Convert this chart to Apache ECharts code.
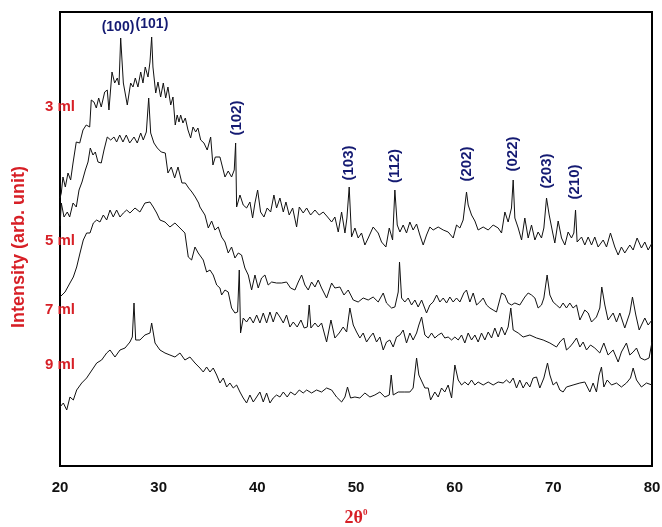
<!DOCTYPE html>
<html>
<head>
<meta charset="utf-8">
<script src="https://cdn.jsdelivr.net/npm/echarts/dist/echarts.min.js"></script>
<style>
html,body{margin:0;padding:0;background:#fff;}
#chart{width:662px;height:527px;}
</style>
</head>
<body>
<div id="chart"></div>
<script>
// 2-theta tick labels
const xTicks = [20, 30, 40, 50, 60, 70, 80];

// [2theta, intensity] pairs
const trace3ml = [[20.0,268],[20.13,273],[20.3,289],[20.54,279],[20.81,293],[21.08,286],[21.32,303],[21.65,324],[22.0,323],[22.33,336],[22.66,341],[23.01,339],[23.17,366],[23.44,364],[23.68,358],[23.92,368],[24.18,359],[24.53,374],[24.79,376],[24.96,356],[25.27,394],[25.54,383],[25.81,388],[25.98,381],[26.15,428],[26.42,383],[26.82,361],[27.16,383],[27.4,379],[27.63,388],[27.9,379],[28.18,394],[28.41,383],[28.64,399],[28.92,389],[29.12,404],[29.29,429],[29.42,399],[29.7,373],[29.93,384],[30.2,369],[30.47,383],[30.71,368],[30.94,379],[31.22,361],[31.45,369],[31.68,341],[31.88,351],[32.06,344],[32.23,351],[32.46,343],[32.7,348],[32.97,336],[33.24,328],[33.48,339],[33.75,334],[33.98,338],[34.26,326],[34.59,323],[34.92,316],[35.27,329],[35.5,301],[35.74,309],[36.21,309],[36.72,289],[37.05,295],[37.39,289],[37.66,296],[37.8,323],[37.9,259],[38.24,271],[38.57,261],[38.91,258],[39.25,264],[39.52,248],[39.76,263],[40.03,276],[40.33,254],[40.67,249],[41.0,258],[41.35,254],[41.68,271],[41.95,258],[42.29,268],[42.63,254],[42.9,264],[43.23,251],[43.58,258],[43.98,239],[44.25,259],[44.65,253],[45.0,258],[45.4,251],[45.84,256],[46.27,251],[46.68,254],[47.12,249],[47.53,244],[47.86,249],[48.2,234],[48.54,254],[48.88,233],[49.08,248],[49.31,279],[49.55,229],[49.89,238],[50.22,228],[50.56,233],[50.9,221],[51.24,228],[51.74,239],[52.25,233],[52.59,224],[53.03,219],[53.37,238],[53.71,226],[53.94,276],[54.18,241],[54.45,234],[54.78,241],[55.12,233],[55.46,244],[55.79,236],[56.14,242],[56.47,231],[56.81,221],[57.15,231],[57.49,239],[57.82,236],[58.33,239],[58.84,236],[59.34,234],[59.85,228],[60.19,241],[60.53,238],[60.86,246],[61.2,274],[61.37,261],[61.71,251],[62.05,245],[62.38,236],[62.89,239],[63.4,236],[63.9,241],[64.41,238],[64.75,233],[65.09,254],[65.42,244],[65.76,258],[65.93,286],[66.1,248],[66.44,238],[66.78,226],[67.11,248],[67.45,228],[67.79,241],[68.13,226],[68.46,234],[68.8,228],[69.04,238],[69.31,268],[69.58,251],[69.92,234],[70.15,223],[70.49,245],[70.83,228],[71.17,221],[71.5,234],[71.84,228],[72.08,233],[72.25,256],[72.41,224],[72.86,229],[73.19,221],[73.53,229],[73.87,221],[74.2,229],[74.54,219],[75.05,226],[75.39,219],[75.79,233],[76.23,219],[76.57,211],[76.9,219],[77.24,213],[77.75,221],[78.09,216],[78.49,228],[78.93,218],[79.27,224],[79.61,216],[80.0,223]];

const trace5ml = [[20.0,240],[20.13,263],[20.41,249],[20.74,254],[20.98,249],[21.32,263],[21.65,259],[21.93,276],[22.23,284],[22.57,296],[22.84,304],[23.07,318],[23.34,311],[23.58,314],[23.85,304],[24.18,303],[24.46,316],[24.79,329],[25.14,326],[25.47,329],[25.74,324],[26.05,331],[26.38,324],[26.72,331],[27.06,323],[27.5,329],[27.83,323],[28.18,333],[28.44,326],[28.75,334],[28.99,368],[29.19,333],[29.52,323],[29.86,318],[30.26,314],[30.67,313],[30.94,293],[31.28,299],[31.62,288],[31.96,299],[32.36,283],[32.7,283],[33.04,278],[33.37,274],[33.71,269],[34.05,263],[34.18,259],[34.69,251],[35.03,238],[35.37,245],[35.7,236],[36.04,239],[36.38,229],[36.72,224],[37.05,213],[37.39,219],[37.73,208],[38.07,213],[38.4,211],[38.74,198],[39.08,191],[39.42,176],[39.76,191],[40.09,178],[40.43,188],[40.77,191],[41.1,181],[41.45,184],[41.95,183],[42.46,183],[42.96,184],[43.37,178],[43.81,176],[44.15,184],[44.49,191],[44.82,181],[45.16,176],[45.5,184],[45.84,179],[46.17,186],[46.51,178],[47.02,168],[47.53,183],[47.86,178],[48.37,179],[48.78,171],[49.21,176],[49.72,166],[50.22,164],[50.73,168],[51.24,166],[51.74,169],[52.25,164],[52.76,173],[53.09,163],[53.6,158],[53.94,159],[54.28,174],[54.41,204],[54.62,168],[54.95,164],[55.29,168],[55.63,161],[55.97,166],[56.3,159],[56.65,166],[57.15,153],[57.49,161],[57.82,164],[58.17,171],[58.5,164],[58.84,168],[59.18,163],[59.51,169],[59.85,164],[60.19,168],[60.53,164],[60.93,173],[61.2,176],[61.54,164],[61.88,173],[62.22,161],[62.55,164],[62.89,168],[63.23,161],[63.57,158],[63.9,156],[64.24,154],[64.75,173],[65.09,171],[65.42,163],[65.76,161],[66.1,163],[66.6,161],[67.11,169],[67.45,173],[67.79,171],[68.13,168],[68.46,158],[68.8,161],[69.04,168],[69.37,191],[69.65,171],[69.98,164],[70.32,161],[70.66,158],[70.99,163],[71.33,158],[71.67,163],[72.0,158],[72.35,161],[72.69,146],[73.19,156],[73.53,153],[73.87,144],[74.37,149],[74.71,158],[74.91,179],[75.22,161],[75.55,146],[76.06,153],[76.4,144],[76.74,153],[77.24,138],[77.75,153],[78.02,169],[78.36,151],[78.7,136],[79.27,148],[79.61,141],[80.0,146]];

const trace7ml = [[20.0,169],[20.51,174],[21.01,183],[21.35,189],[21.69,199],[22.03,213],[22.36,226],[22.7,233],[23.04,233],[23.38,243],[23.72,246],[24.05,244],[24.39,251],[24.73,246],[25.07,256],[25.4,249],[25.74,256],[26.08,249],[26.42,253],[26.76,256],[27.09,253],[27.6,258],[28.1,254],[28.61,263],[29.12,264],[29.45,259],[29.8,253],[30.13,246],[30.64,244],[31.14,239],[31.65,243],[32.16,238],[32.66,233],[33.0,209],[33.34,206],[33.68,219],[34.01,213],[34.18,211],[34.52,206],[34.86,194],[35.2,196],[35.53,191],[35.88,181],[36.21,178],[36.38,171],[36.72,176],[37.05,174],[37.39,158],[37.73,153],[38.0,154],[38.17,196],[38.3,133],[38.57,148],[38.91,144],[39.25,149],[39.59,143],[39.93,151],[40.26,143],[40.6,153],[40.94,143],[41.28,154],[41.61,144],[41.95,154],[42.29,149],[42.63,143],[42.96,151],[43.3,139],[43.64,144],[44.04,139],[44.42,146],[44.75,138],[45.06,139],[45.26,161],[45.43,138],[45.84,143],[46.17,139],[46.51,143],[47.02,124],[47.46,146],[47.86,128],[48.3,133],[48.7,139],[49.05,134],[49.38,158],[49.72,141],[50.06,134],[50.39,128],[50.73,133],[51.07,124],[51.41,129],[51.74,133],[52.08,124],[52.42,129],[52.76,116],[53.09,124],[53.43,126],[53.77,119],[54.11,129],[54.45,131],[54.78,136],[55.12,123],[55.46,133],[55.79,126],[56.14,133],[56.37,141],[56.65,149],[56.98,131],[57.32,128],[57.66,133],[57.99,128],[58.33,131],[58.67,133],[59.0,128],[59.34,129],[59.69,126],[60.02,129],[60.36,126],[60.7,131],[61.03,123],[61.37,133],[61.71,126],[62.05,131],[62.38,124],[62.72,133],[63.06,126],[63.4,134],[63.74,128],[64.07,138],[64.41,129],[64.75,139],[65.09,131],[65.42,139],[65.69,158],[65.93,136],[66.44,133],[66.94,129],[67.62,131],[68.3,128],[68.97,126],[69.65,123],[70.32,119],[70.66,124],[71.06,128],[71.33,116],[71.67,119],[72.0,123],[72.35,128],[72.69,119],[73.02,124],[73.36,116],[73.77,121],[74.2,118],[74.71,113],[75.12,123],[75.55,111],[76.06,116],[76.57,104],[76.9,114],[77.41,123],[77.75,111],[78.09,114],[78.43,118],[78.83,108],[79.27,106],[79.7,108],[80.0,124]];

const trace9ml = [[20.0,59],[20.34,63],[20.68,56],[21.01,69],[21.35,66],[21.69,76],[22.2,83],[22.7,88],[23.04,93],[23.38,98],[23.72,103],[24.22,106],[24.73,113],[25.07,116],[25.57,109],[26.08,116],[26.59,118],[27.09,124],[27.33,129],[27.5,163],[27.67,126],[28.1,126],[28.61,131],[29.12,133],[29.29,143],[29.63,123],[30.13,116],[30.64,113],[31.14,111],[31.65,109],[32.16,113],[32.66,106],[33.17,109],[33.68,103],[34.18,98],[34.52,94],[34.86,99],[35.2,94],[35.53,98],[35.88,91],[36.21,83],[36.55,88],[36.89,79],[37.22,83],[37.56,78],[37.9,81],[38.24,74],[38.57,68],[38.91,63],[39.25,71],[39.59,64],[39.93,69],[40.26,74],[40.6,64],[40.94,73],[41.28,63],[41.61,68],[41.95,71],[42.29,69],[42.63,74],[43.03,69],[43.37,74],[43.81,71],[44.25,76],[44.65,73],[45.0,76],[45.5,73],[46.0,76],[46.51,74],[47.02,78],[47.53,76],[48.03,69],[48.54,64],[48.88,69],[49.14,79],[49.45,68],[49.89,69],[50.39,68],[50.9,73],[51.41,69],[51.91,71],[52.42,74],[52.93,69],[53.37,71],[53.57,91],[53.77,71],[54.28,74],[54.95,74],[55.46,74],[55.79,78],[56.14,108],[56.37,91],[56.65,85],[56.98,78],[57.32,78],[57.56,66],[57.99,74],[58.33,69],[58.67,78],[59.0,74],[59.34,81],[59.69,68],[60.02,101],[60.36,86],[60.7,81],[61.03,84],[61.37,81],[61.71,86],[62.05,81],[62.38,84],[62.89,81],[63.4,84],[63.9,81],[64.41,84],[64.91,83],[65.25,86],[65.59,83],[65.93,88],[66.27,78],[66.6,86],[66.94,78],[67.28,84],[67.62,79],[67.95,88],[68.3,89],[68.63,78],[69.04,88],[69.41,103],[69.65,91],[69.98,81],[70.32,84],[70.66,76],[70.99,74],[71.33,79],[72.0,81],[72.69,83],[73.19,84],[73.7,74],[74.03,83],[74.37,74],[74.64,91],[74.88,99],[75.12,79],[75.46,86],[75.9,81],[76.4,83],[76.9,79],[77.41,83],[77.82,88],[78.09,98],[78.43,86],[78.93,79],[79.44,83],[80.0,81]];

// reflection labels
const hklNames = ['(100)','(101)','(102)','(103)','(112)','(202)','(022)','(203)','(210)'];
const hklTheta = [25.88,29.32,37.93,49.28,53.89,61.19,65.9,69.34,72.18];
const hklLevel = [439,442,348,303,300,302,312,295,284];
const hklRotated = [false,false,true,true,true,true,true,true,true];

const sampleNames = ['3 ml','5 ml','7 ml','9 ml'];

const RED = '#d71f26';
const NAVY = '#141a72';
const LINE = '#111111';

const traces = [trace3ml, trace5ml, trace7ml, trace9ml];

const chart = echarts.init(document.getElementById('chart'), null, {renderer:'canvas'});

const series = traces.map((tr, k) => ({
  name: sampleNames[k],
  type: 'line',
  data: tr,
  showSymbol: false,
  symbol: 'none',
  smooth: false,
  animation: false,
  lineStyle: {color: LINE, width: 1},
  z: 2
}));

series.push({
  type: 'scatter',
  symbolSize: 1,
  itemStyle: {color: 'rgba(255,255,255,0)', opacity: 1},
  animation: false,
  silent: true,
  z: 5,
  data: hklNames.map((n,i)=>({
    value: [hklTheta[i], hklLevel[i]],
    name: n,
    label: {
      show: true,
      position: 'inside',
      formatter: n,
      rotate: hklRotated[i] ? 90 : 0,
      color: NAVY,
      opacity: 1,
      textBorderWidth: 0,
      fontFamily: 'Liberation Sans, Arial, sans-serif',
      fontWeight: 'bold',
      fontSize: hklRotated[i] ? 15 : 14
    }
  }))
});

const sampleY = [107, 241, 310, 365];

const option = {
  backgroundColor: '#fff',
  animation: false,
  grid: {left: 60, right: 10, top: 12, bottom: 61, containLabel: false, outerBoundsMode: 'none', show: true, borderColor: '#000', borderWidth: 2, backgroundColor: 'transparent'},
  xAxis: {
    type: 'value',
    min: xTicks[0],
    max: xTicks[xTicks.length-1],
    interval: 10,
    axisLine: {show: false},
    axisTick: {show: false},
    splitLine: {show: false},
    axisLabel: {
      color: '#111',
      fontFamily: 'Liberation Sans, Arial, sans-serif',
      fontWeight: 'bold',
      fontSize: 15,
      margin: 14
    },
    name: '{a|2θ}{b|0}',
    nameLocation: 'middle',
    nameGap: 42,
    nameTextStyle: {
      rich: {
        a: {color: RED, fontFamily: 'Liberation Serif, Times New Roman, serif', fontSize: 18, lineHeight: 20, fontWeight: 'bold'},
        b: {color: RED, fontFamily: 'Liberation Serif, Times New Roman, serif', fontSize: 9, lineHeight: 20, verticalAlign: 'top', fontWeight: 'bold'}
      }
    }
  },
  yAxis: {
    type: 'value',
    min: 0,
    max: 454,
    show: true,
    axisLine: {show: false},
    axisTick: {show: false},
    axisLabel: {show: false},
    splitLine: {show: false}
  },
  graphic: [
    {
      type: 'text',
      x: 19, y: 247,
      rotation: Math.PI/2,
      style: {
        text: 'Intensity (arb. unit)',
        fill: RED,
        font: 'bold 18px "Liberation Sans", Arial, sans-serif',
        align: 'center',
        verticalAlign: 'middle'
      },
      z: 10
    }
  ].concat(sampleNames.map((s,i)=>({
    type: 'text',
    x: 60, y: sampleY[i],
    style: {
      text: s,
      fill: RED,
      font: 'bold 15px "Liberation Sans", Arial, sans-serif',
      align: 'center',
      verticalAlign: 'middle'
    },
    z: 10
  }))),
  series: series
};

chart.setOption(option);
</script>
</body>
</html>
